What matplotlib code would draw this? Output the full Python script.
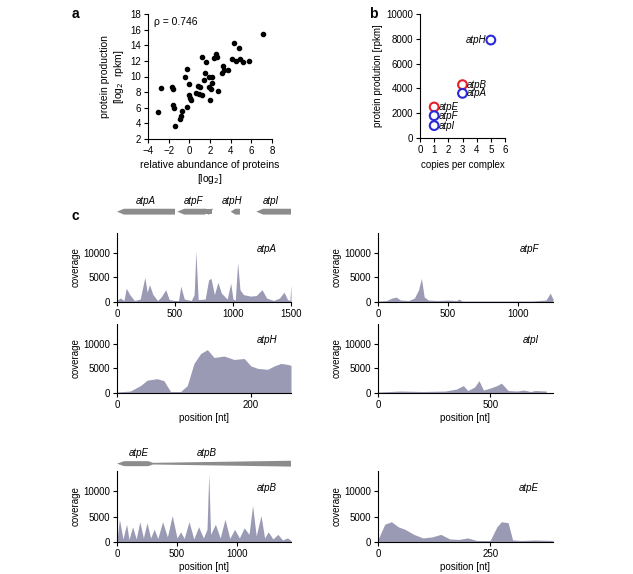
import numpy as np
import matplotlib.pyplot as plt
from matplotlib.patches import Polygon

plt.rcParams['font.family'] = ['Liberation Sans', 'DejaVu Sans']
plt.rcParams['font.size'] = 7

# panel a
abund = [-3, -2.7, -1.7, -1.6, -1.6, -1.5, -1.4, -0.9, -0.8, -0.7, -0.4, -0.2, -0.2, 0, 0, 0.1, 0.2,
         0.6, 0.8, 0.9, 1, 1.2, 1.2, 1.4, 1.5, 1.6, 1.9, 1.9, 2, 2.1, 2.2, 2.2, 2.4, 2.6, 2.7, 2.8,
         3.2, 3.3, 3.4, 3.7, 4.1, 4.3, 4.5, 4.8, 4.9, 5.2, 5.8, 7.1]
prod = [5.4, 8.5, 8.7, 8.4, 6.4, 6.0, 3.7, 4.6, 5.0, 5.6, 10, 6.1, 11, 7.6, 9.1, 7.3, 7.0,
        7.9, 8.8, 7.8, 8.6, 7.6, 12.5, 9.5, 10.5, 11.9, 9.9, 8.6, 7.0, 8.4, 9.2, 9.9, 12.4, 12.9, 12.5, 8.1,
        10.5, 11.3, 10.8, 10.8, 12.2, 14.3, 12.0, 13.7, 12.3, 11.8, 12.0, 15.5]

# panel b
copies = [1, 1, 1, 3, 3, 5]
rpkm = [2500, 1800, 1000, 4300, 3600, 7900]
b_genes = ['atpE', 'atpF', 'atpI', 'atpB', 'atpA', 'atpH']
b_colors = ['#e8202a', '#2a2ad8', '#2a2ad8', '#e8202a', '#2a2ad8', '#2a2ad8']

# panel c coverage profiles (position, coverage)
cov = {
    'atpA': ([0, 30, 60, 80, 110, 150, 200, 240, 260, 280, 310, 350, 380, 420, 450, 500, 530, 550, 580, 640, 665, 680, 700, 760, 790, 810, 840, 870, 900, 950, 980, 1000, 1020, 1040, 1060, 1090, 1150, 1200, 1250, 1290, 1350, 1400, 1440, 1470, 1490, 1500],
             [400, 800, 300, 2800, 1500, 300, 600, 5000, 2000, 3500, 1500, 300, 1000, 2500, 500, 300, 300, 3200, 600, 300, 1500, 10300, 500, 600, 4500, 4800, 1500, 4000, 1800, 600, 3800, 600, 400, 8000, 2500, 1500, 1200, 1300, 2500, 800, 300, 800, 2000, 500, 300, 3500]),
    'atpH': ([0, 20, 35, 45, 60, 70, 80, 95, 105, 115, 125, 135, 145, 160, 175, 190, 200, 210, 225, 235, 245, 255, 260],
             [200, 400, 1500, 2600, 2900, 2500, 300, 300, 1500, 6000, 8000, 8800, 7200, 7500, 6800, 7000, 5500, 5000, 4800, 5500, 6000, 5800, 5600]),
    'atpB': ([0, 20, 50, 80, 100, 130, 160, 190, 220, 250, 280, 310, 340, 380, 420, 460, 500, 530, 560, 600, 640, 680, 720, 750, 765, 780, 820, 860, 900, 940, 980, 1020, 1060, 1100, 1130, 1160, 1200, 1230, 1260, 1300, 1340, 1380, 1420, 1450],
             [300, 4500, 600, 3500, 500, 3000, 600, 4000, 800, 3800, 800, 2500, 700, 4000, 1000, 5200, 800, 2000, 700, 4000, 600, 3000, 800, 2500, 13500, 1500, 3500, 800, 4500, 700, 2500, 800, 2800, 1500, 7200, 1200, 5200, 800, 2000, 600, 1500, 400, 800, 300]),
    'atpF': ([0, 60, 100, 130, 160, 220, 260, 290, 310, 330, 360, 420, 500, 560, 580, 600, 700, 900, 1100, 1200, 1230, 1250],
             [200, 300, 800, 1000, 400, 300, 800, 2500, 4800, 1000, 400, 300, 400, 300, 600, 200, 200, 200, 200, 400, 1800, 600]),
    'atpI': ([0, 50, 100, 200, 300, 350, 380, 400, 430, 450, 470, 500, 530, 550, 580, 620, 650, 680, 700, 750],
             [200, 300, 400, 300, 400, 800, 1500, 500, 1200, 2500, 600, 1000, 1500, 2000, 500, 400, 600, 300, 500, 400]),
    'atpE': ([0, 15, 30, 45, 60, 80, 100, 120, 140, 160, 180, 200, 220, 250, 265, 275, 290, 300, 320, 350, 390],
             [500, 3500, 4000, 3000, 2500, 1500, 800, 1000, 1500, 600, 500, 800, 300, 300, 3000, 4000, 3800, 400, 300, 400, 300]),
}
cov_xmax = {'atpA': 1500, 'atpH': 260, 'atpB': 1450, 'atpF': 1250, 'atpI': 780, 'atpE': 390}
cov_xticks = {'atpA': [0, 500, 1000, 1500], 'atpH': [0, 200], 'atpB': [0, 500, 1000],
              'atpF': [0, 500, 1000], 'atpI': [0, 500], 'atpE': [0, 250]}

fill_col = '#9a9ab4'
W, H = 633, 574
fig = plt.figure(figsize=(W / 100, H / 100), dpi=100)


def ax_px(x0, y0, x1, y1):
    return fig.add_axes([x0 / W, 1 - y1 / H, (x1 - x0) / W, (y1 - y0) / H])


def style(ax):
    for s in ['top', 'right']:
        ax.spines[s].set_visible(False)
    ax.tick_params(direction='out', length=3, labelsize=7, pad=2)


# a
ax = ax_px(148, 14, 272, 139)
ax.scatter(abund, prod, s=9, color='black')
ax.set_xlim(-4, 8)
ax.set_ylim(2, 18)
ax.set_xticks(range(-4, 9, 2))
ax.set_yticks(range(2, 19, 2))
ax.text(-3.4, 16.6, 'ρ = 0.746', fontsize=7.5)
ax.set_xlabel('relative abundance of proteins\n[log$_2$]', fontsize=7.5, labelpad=3)
ax.set_ylabel('protein production\n[log$_2$  rpkm]', fontsize=7.5, labelpad=3)
style(ax)
fig.text(72 / W, 1 - 18 / H, 'a', fontsize=10, fontweight='bold')

# b
ax = ax_px(420, 14, 505, 138)
ax.scatter(copies, rpkm, s=40, facecolors='white', edgecolors=b_colors, linewidths=1.5, zorder=3)
for x, y, g in zip(copies, rpkm, b_genes):
    if g == 'atpH':
        ax.text(x - 0.35, y, g, style='italic', ha='right', va='center', fontsize=7)
    else:
        ax.text(x + 0.3, y, g, style='italic', ha='left', va='center', fontsize=7)
ax.set_xlim(0, 6)
ax.set_ylim(0, 10000)
ax.set_xticks(range(0, 7))
ax.set_yticks(range(0, 10001, 2000))
ax.set_xlabel('copies per complex', fontsize=7)
ax.set_ylabel('protein prodution [rpkm]', fontsize=7, labelpad=2)
style(ax)
fig.text(369 / W, 1 - 18 / H, 'b', fontsize=10, fontweight='bold')
fig.text(72 / W, 1 - 220 / H, 'c', fontsize=10, fontweight='bold')


def arrow(ax, x0, x1, h=0.35):
    # leftward-pointing gene arrow from x1 (tail) to x0 (tip)
    tip = min(60, (x1 - x0) * 0.5)
    pts = [(x0, 0), (x0 + tip, h), (x1, h), (x1, -h), (x0 + tip, -h)]
    ax.add_patch(Polygon(pts, closed=True, color='#8c8c8c', lw=0))


# gene map 1
gm = ax_px(117, 195, 291, 220)
gm.set_xlim(0, 1500)
gm.set_ylim(-1, 2)
gm.axis('off')
for g, a0, a1 in [('atpA', 0, 500), ('atpF', 520, 760), ('atpH', 980, 1060), ('atpI', 1200, 1500)]:
    arrow(gm, a0, a1)
gm.add_patch(Polygon([(760, 0.3), (820, 0.3), (820, -0.3), (760, -0.3)], color='#8c8c8c', lw=0))
gm.plot([760, 790, 820], [0.3, -0.3, 0.3], color='#8c8c8c', lw=0.8)
for g, xc in [('atpA', 250), ('atpF', 660), ('atpH', 990), ('atpI', 1330)]:
    gm.text(xc, 1.3, g, style='italic', ha='center', va='center', fontsize=7)

# gene map 2
gm = ax_px(117, 447, 291, 472)
gm.set_xlim(0, 1450)
gm.set_ylim(-1, 2)
gm.axis('off')
gm.add_patch(Polygon([(0, 0), (60, 0.3), (260, 0.3), (300, 0.1), (1450, 0.35), (1450, -0.35), (300, -0.1), (260, -0.3), (60, -0.3)],
                     closed=True, color='#8c8c8c', lw=0))
gm.text(180, 1.3, 'atpE', style='italic', ha='center', va='center', fontsize=7)
gm.text(750, 1.3, 'atpB', style='italic', ha='center', va='center', fontsize=7)

panels = [('atpA', 117, 233, 291, 302, False), ('atpF', 378, 233, 553, 302, False),
          ('atpH', 117, 324, 291, 393, True), ('atpI', 378, 324, 553, 393, True),
          ('atpB', 117, 471, 291, 542, True), ('atpE', 378, 471, 553, 542, True)]
for g, x0, y0, x1, y1, xl in panels:
    ax = ax_px(x0, y0, x1, y1)
    px, cy = cov[g]
    ax.fill_between(px, cy, 0, color=fill_col, lw=0)
    ax.set_xlim(0, cov_xmax[g])
    ax.set_ylim(0, 14000)
    ax.set_yticks([0, 5000, 10000])
    ax.set_xticks(cov_xticks[g])
    ax.text(0.92, 0.72, g, transform=ax.transAxes, style='italic', ha='right', fontsize=7)
    ax.set_ylabel('coverage', fontsize=7, labelpad=2)
    if xl:
        ax.set_xlabel('position [nt]', fontsize=7, labelpad=2)
    style(ax)

fig.savefig('out.png', dpi=100)
